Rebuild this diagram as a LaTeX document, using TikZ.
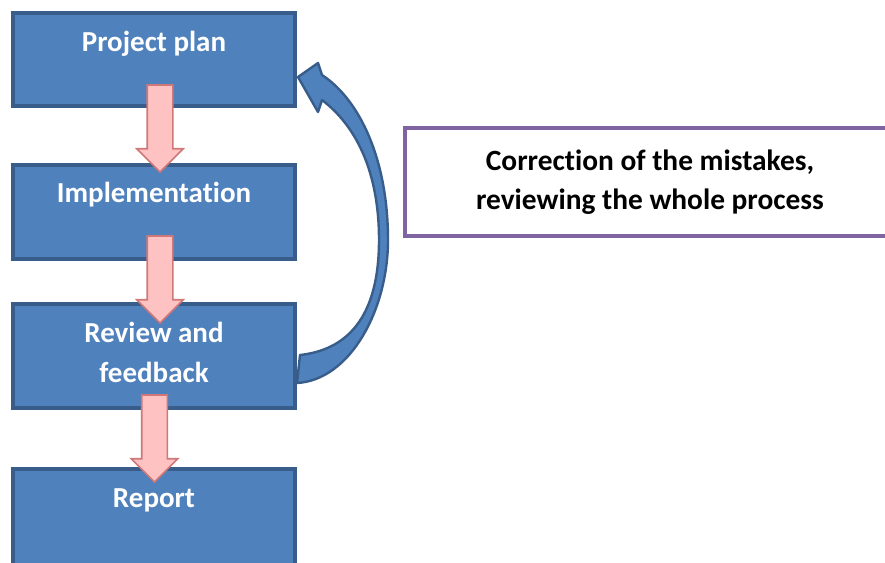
\documentclass[tikz,border=0pt]{standalone}
\usepackage{fontspec}
\setmainfont{Carlito}[Ligatures=NoCommon]
\usepackage{tikz}
\usetikzlibrary{shapes,arrows,positioning,calc}

\definecolor{boxblue}{HTML}{4F81BD}
\definecolor{boxedge}{HTML}{385D8A}
\definecolor{arrowpink}{HTML}{FFC2C2}
\definecolor{arrowedge}{HTML}{D07878}
\definecolor{notepurple}{HTML}{8064A2}

\begin{document}
\begin{tikzpicture}[
    x=0.5pt, y=-0.5pt,
    stepbox/.style={rectangle, draw=boxedge, fill=boxblue, line width=2pt, minimum width=141pt, outer sep=0pt},
    steptext/.style={text=white, font=\fontsize{14.5pt}{20pt}\selectfont\bfseries, align=center, inner sep=0pt},
    flowarrow/.style={single arrow, draw=arrowedge, fill=arrowpink, line width=0.8pt, minimum height=43.5pt, inner sep=6pt, single arrow head extend=5.25pt, shape border rotate=270, outer sep=0pt, anchor=tip},
    notebox/.style={rectangle, draw=notepurple, line width=2pt, minimum width=245pt, minimum height=54pt, align=center, font=\fontsize{14.7pt}{19.5pt}\selectfont\bfseries},
    loopback/.style={fill=boxblue, draw=boxedge, line width=1.2pt, line join=round}
]
\useasboundingbox (0,0) rectangle (885,563);

% Process steps
\node[stepbox, minimum height=46.5pt] (plan) at (154,59.5) {};
\node[stepbox, minimum height=47pt, below=29.5pt of plan] (impl) {};
\node[stepbox, minimum height=52pt, below=22.5pt of impl] (review) {};
\node[stepbox, minimum height=48pt, below=30.5pt of review] (report) {};

% Step titles
\node[steptext, below=9pt of plan.north] (plantext) {Project plan};
\node[steptext, below=8.5pt of impl.north] (impltext) {Implementation};
\node[steptext, below=9pt of review.north] (reviewtext) {Review and\\feedback};
\node[steptext, below=9.5pt of report.north] (reporttext) {Report};

% Feedback loop back to the plan
\begin{scope}[shift={(review.east)}]
\draw[loopback] (2,27) .. controls (55,24) and (93,-46) .. (93,-116)
    .. controls (93,-196) and (65,-256) .. (27,-281)
    -- (23,-293) -- (3,-279) -- (23,-244) -- (27,-256)
    .. controls (60,-231) and (84,-186) .. (84,-116)
    .. controls (84,-36) and (50,-6) .. (5,-1) -- cycle;
\end{scope}

% Forward arrows
\node[flowarrow] (planarrow) at ($(impl.north)+(6,7)$) {};
\node[flowarrow] (implarrow) at ($(review.north)+(6,19)$) {};
\node[flowarrow] (reviewarrow) at ($(report.north)+(0.5,13)$) {};

\node[notebox] (note) at (650,182) {Correction of the mistakes,\\reviewing the whole process};

\end{tikzpicture}
\end{document}
